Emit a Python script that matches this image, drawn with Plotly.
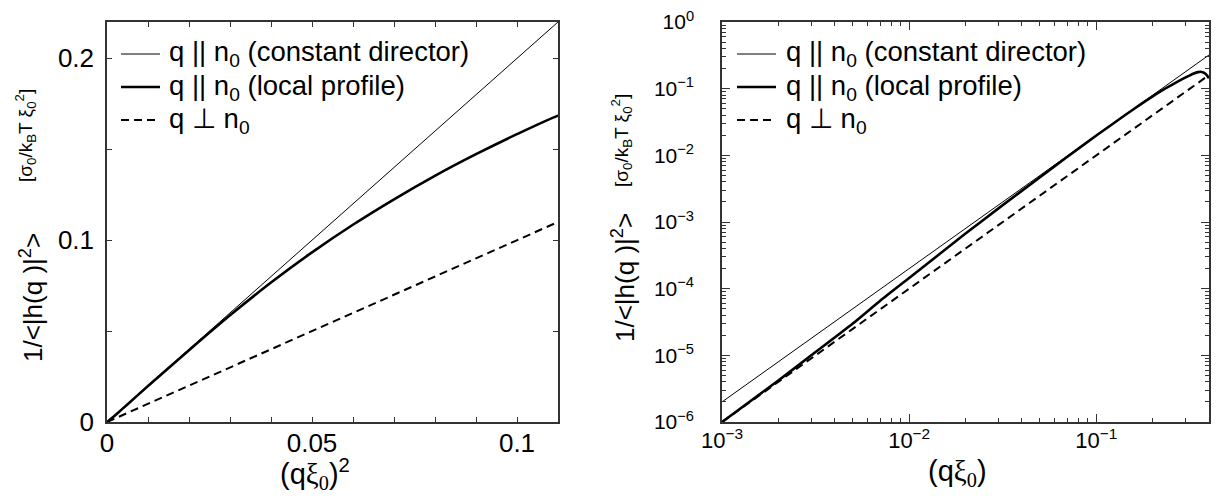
import plotly.graph_objects as go

# ---------------- data ----------------
# left panel: abscissa is (q xi0)^2 on linear axes
x_sq_lines = [0.0, 0.11]
const_dir_lin = [0.0, 0.22]      # q || n0 (constant director)
perp_lin = [0.0, 0.11]           # q perp n0

# right panel: abscissa is q xi0 on log axes (power laws -> straight lines)
q_lines = [0.001, 0.4]
const_dir_log = [2.0e-6, 0.32]
perp_log = [1.0e-6, 0.16]

# q || n0 (local profile), read point by point
q_local = [0.001, 0.002, 0.003, 0.005, 0.007, 0.01, 0.02, 0.03, 0.05, 0.07,
           0.1, 0.1414, 0.1732, 0.2, 0.2236, 0.2449, 0.2646, 0.2828, 0.3, 0.3162,
           0.3317, 0.35, 0.36, 0.37, 0.38, 0.39, 0.4]
local_profile = [1.0e-6, 4.2e-6, 1.0e-5, 3.0e-5, 6.6e-5, 1.45e-4, 6.7e-4, 1.6e-3,
                 4.7e-3, 9.5e-3, 0.0198, 0.0395, 0.0587, 0.0767, 0.0933, 0.1085,
                 0.1225, 0.1354, 0.1473, 0.1583, 0.1685, 0.177, 0.179, 0.177, 0.17,
                 0.158, 0.143]
x_sq_local = [q * q for q in q_local]

left_xticks = [0, 0.05, 0.1]
left_xlabels = ["0", "0.05", "0.1"]
left_yticks = [0, 0.1, 0.2]
left_ylabels = ["0", "0.1", "0.2"]
right_xticks = [1e-3, 1e-2, 1e-1]
right_xlabels = ["10<sup>\u22123</sup>", "10<sup>\u22122</sup>", "10<sup>\u22121</sup>"]
right_yticks = [1e-6, 1e-5, 1e-4, 1e-3, 1e-2, 1e-1, 1e0]
right_ylabels = ["10<sup>\u22126</sup>", "10<sup>\u22125</sup>", "10<sup>\u22124</sup>",
                 "10<sup>\u22123</sup>", "10<sup>\u22122</sup>", "10<sup>\u22121</sup>",
                 "10<sup>0</sup>"]

names = ["q || n<sub>0</sub> (constant director)",
         "q || n<sub>0</sub> (local profile)",
         "q \u22a5 n<sub>0</sub>"]

FONT = "Liberation Sans, Arial, sans-serif"
SERIF = "Liberation Serif"

fig = go.Figure()

thin = dict(color="black", width=1)
thick = dict(color="black", width=2.6, shape="spline", smoothing=0.6)
dashed = dict(color="black", width=2, dash="8px,5px")
styles = [thin, dict(color="black", width=2.6), dashed]

# left panel
fig.add_trace(go.Scatter(x=x_sq_lines, y=const_dir_lin, mode="lines", line=thin,
                         name=names[0], xaxis="x", yaxis="y"))
fig.add_trace(go.Scatter(x=x_sq_local, y=local_profile, mode="lines", line=thick,
                         name=names[1], xaxis="x", yaxis="y"))
fig.add_trace(go.Scatter(x=x_sq_lines, y=perp_lin, mode="lines", line=dashed,
                         name=names[2], xaxis="x", yaxis="y"))
# right panel
fig.add_trace(go.Scatter(x=q_lines, y=const_dir_log, mode="lines", line=thin,
                         name=names[0], xaxis="x2", yaxis="y2"))
fig.add_trace(go.Scatter(x=q_local, y=local_profile, mode="lines", line=thick,
                         name=names[1], xaxis="x2", yaxis="y2"))
fig.add_trace(go.Scatter(x=q_lines, y=perp_log, mode="lines", line=dashed,
                         name=names[2], xaxis="x2", yaxis="y2"))

# the page has an 8px body margin; positions below are given in page pixels
OFF = 8
W, H = 1204, 488


def fx(px):
    return (px - OFF) / W


def fy(py):
    return 1 - (py - OFF) / H


LX0, LX1 = 107, 558
RX0, RX1 = 722, 1209
Y0, Y1 = 22, 422

axline = dict(showline=True, linecolor="#333", linewidth=1.5, mirror="allticks",
              ticks="inside", tickcolor="#333", showgrid=False, zeroline=False,
              automargin=False, ticklabeloverflow="allow")

fig.update_layout(
    width=W, height=H, margin=dict(l=0, r=0, t=0, b=0),
    paper_bgcolor="white", plot_bgcolor="white",
    font=dict(family=FONT, color="black"),
    showlegend=False,
    xaxis=dict(domain=[fx(LX0), fx(LX1)], range=[0, 0.11],
               tickvals=left_xticks, ticktext=left_xlabels,
               ticklen=5, tickfont=dict(size=26), ticklabelstandoff=-3,
               minor=dict(dtick=0.01, ticks="inside", ticklen=5, tickcolor="#333"),
               anchor="y", **axline),
    yaxis=dict(domain=[fy(Y1), fy(Y0)], range=[0, 0.22],
               tickvals=left_yticks, ticktext=left_ylabels,
               ticklen=5, tickfont=dict(size=26), ticklabelstandoff=6,
               minor=dict(dtick=0.05, ticks="inside", ticklen=5, tickcolor="#333"),
               anchor="x", **axline),
    xaxis2=dict(domain=[fx(RX0), fx(RX1)], type="log", range=[-3, -0.398],
                tickvals=right_xticks, ticktext=right_xlabels, ticklen=8,
                tickfont=dict(size=22), ticklabelstandoff=-2,
                minor=dict(dtick="D1", ticks="inside", ticklen=4, tickcolor="#333"),
                anchor="y2", **axline),
    yaxis2=dict(domain=[fy(Y1), fy(Y0)], type="log", range=[-6, 0],
                tickvals=right_yticks, ticktext=right_ylabels, ticklen=8,
                tickfont=dict(size=21), ticklabelstandoff=22,
                minor=dict(dtick="D1", ticks="inside", ticklen=4, tickcolor="#333"),
                anchor="x2", **axline),
)

# ---- legends (drawn by hand so row spacing matches) ----
leg_rows = [54, 87, 120]
for (lx0, lx1, tx) in [(121, 160, 167), (737, 776, 784)]:
    for name, st, ry in zip(names, styles, leg_rows):
        fig.add_shape(type="line", xref="paper", yref="paper",
                      x0=fx(lx0), x1=fx(lx1), y0=fy(ry), y1=fy(ry), line=st)
        fig.add_annotation(text=name, xref="paper", yref="paper",
                           x=fx(tx), y=fy(ry), xanchor="left", yanchor="middle",
                           showarrow=False,
                           font=dict(family=FONT, size=27.5, color="black"))

# ---- axis titles ----
xi0 = ('<span style="font-family:%s">\u03be<sub>0</sub></span>' % SERIF)
main_lab = '1/&lt;|h(q )|<sup>2</sup>&gt;'
unit_lab = '[\u03c3<sub>0</sub>/k<sub>B</sub>T \u03be<sub>0</sub><sup>2</sup>]'

for (mx, my, ux, uy) in [(31, 298, 25, 136), (623, 278, 622, 141)]:
    fig.add_annotation(text=main_lab, xref="paper", yref="paper",
                       x=fx(mx), y=fy(my), textangle=-90, showarrow=False,
                       xanchor="center", yanchor="middle",
                       font=dict(family=FONT, size=26, color="black"))
    fig.add_annotation(text=unit_lab, xref="paper", yref="paper",
                       x=fx(ux), y=fy(uy), textangle=-90, showarrow=False,
                       xanchor="center", yanchor="middle",
                       font=dict(family=FONT, size=19, color="black"))

fig.add_annotation(text="(q" + xi0 + ")<sup>2</sup>", xref="paper", yref="paper",
                   x=fx(315), y=fy(474), showarrow=False,
                   xanchor="center", yanchor="middle",
                   font=dict(family=FONT, size=29, color="black"))
fig.add_annotation(text="(q" + xi0 + ")", xref="paper", yref="paper",
                   x=fx(957), y=fy(473), showarrow=False,
                   xanchor="center", yanchor="middle",
                   font=dict(family=FONT, size=29, color="black"))

fig.write_html("out.html")
